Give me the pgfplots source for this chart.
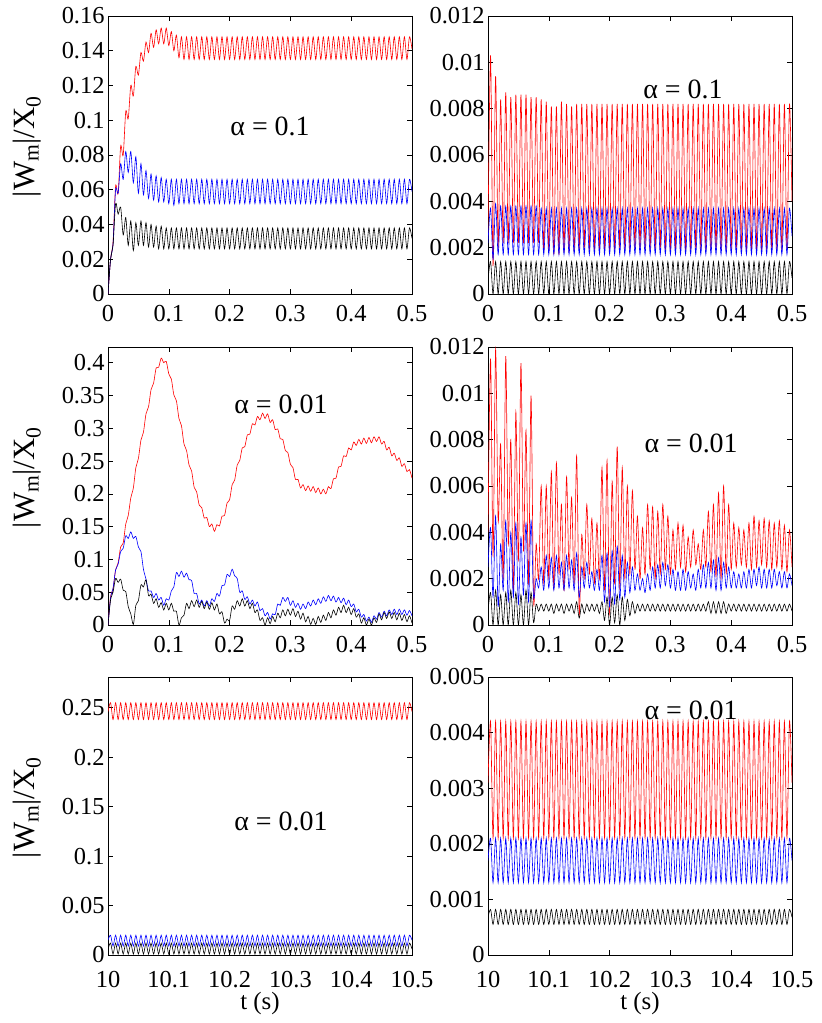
\documentclass[border=0pt]{standalone}
\usepackage{fontspec}
\setmainfont{Liberation Serif}
\usepackage{pgfplots}
\pgfplotsset{compat=1.18}
\usepackage{pgfplotstable}

\pgfplotstableread{
t r b k
0 0 0 0
0.0042 0.020 0.020 0.020
0.0083 0.030 0.029 0.028
0.0125 0.062 0.060 0.052
0.0167 0.058 0.058 0.046
0.0208 0.085 0.075 0.050
0.025 0.080 0.066 0.034
0.0292 0.105 0.082 0.044
0.0333 0.101 0.070 0.028
0.0375 0.120 0.082 0.042
0.0417 0.114 0.064 0.025
0.0458 0.131 0.079 0.041
0.05 0.126 0.058 0.028
0.0542 0.139 0.075 0.042
0.0583 0.134 0.057 0.028
0.0625 0.145 0.071 0.041
0.0667 0.139 0.055 0.027
0.0708 0.150 0.069 0.040
0.075 0.142 0.054 0.027
0.0792 0.152 0.068 0.039
0.0833 0.144 0.053 0.026
0.0875 0.153 0.067 0.039
0.0917 0.144 0.053 0.026
0.0958 0.153 0.066 0.038
0.1 0.143 0.052 0.026
0.1042 0.151 0.066 0.038
0.1083 0.140 0.051 0.026
0.1125 0.149 0.066 0.038
0.1167 0.136 0.052 0.026
0.1208 0.148 0.066 0.038
0.125 0.135 0.052 0.026
0.1292 0.148 0.066 0.038
0.1333 0.135 0.052 0.026
0.1375 0.148 0.066 0.038
0.1417 0.135 0.052 0.026
0.1458 0.148 0.066 0.038
0.15 0.135 0.052 0.026
0.1542 0.148 0.066 0.038
0.1583 0.135 0.052 0.026
0.1625 0.148 0.066 0.038
0.1667 0.135 0.052 0.026
0.1708 0.148 0.066 0.038
0.175 0.135 0.052 0.026
0.1792 0.148 0.066 0.038
0.1833 0.135 0.052 0.026
0.1875 0.148 0.066 0.038
0.1917 0.135 0.052 0.026
0.1958 0.148 0.066 0.038
0.2 0.135 0.052 0.026
0.2042 0.148 0.066 0.038
0.2083 0.135 0.052 0.026
0.2125 0.148 0.066 0.038
0.2167 0.135 0.052 0.026
0.2208 0.148 0.066 0.038
0.225 0.135 0.052 0.026
0.2292 0.148 0.066 0.038
0.2333 0.135 0.052 0.026
0.2375 0.148 0.066 0.038
0.2417 0.135 0.052 0.026
0.2458 0.148 0.066 0.038
0.25 0.135 0.052 0.026
0.2542 0.148 0.066 0.038
0.2583 0.135 0.052 0.026
0.2625 0.148 0.066 0.038
0.2667 0.135 0.052 0.026
0.2708 0.148 0.066 0.038
0.275 0.135 0.052 0.026
0.2792 0.148 0.066 0.038
0.2833 0.135 0.052 0.026
0.2875 0.148 0.066 0.038
0.2917 0.135 0.052 0.026
0.2958 0.148 0.066 0.038
0.3 0.135 0.052 0.026
0.3042 0.148 0.066 0.038
0.3083 0.135 0.052 0.026
0.3125 0.148 0.066 0.038
0.3167 0.135 0.052 0.026
0.3208 0.148 0.066 0.038
0.325 0.135 0.052 0.026
0.3292 0.148 0.066 0.038
0.3333 0.135 0.052 0.026
0.3375 0.148 0.066 0.038
0.3417 0.135 0.052 0.026
0.3458 0.148 0.066 0.038
0.35 0.135 0.052 0.026
0.3542 0.148 0.066 0.038
0.3583 0.135 0.052 0.026
0.3625 0.148 0.066 0.038
0.3667 0.135 0.052 0.026
0.3708 0.148 0.066 0.038
0.375 0.135 0.052 0.026
0.3792 0.148 0.066 0.038
0.3833 0.135 0.052 0.026
0.3875 0.148 0.066 0.038
0.3917 0.135 0.052 0.026
0.3958 0.148 0.066 0.038
0.4 0.135 0.052 0.026
0.4042 0.148 0.066 0.038
0.4083 0.135 0.052 0.026
0.4125 0.148 0.066 0.038
0.4167 0.135 0.052 0.026
0.4208 0.148 0.066 0.038
0.425 0.135 0.052 0.026
0.4292 0.148 0.066 0.038
0.4333 0.135 0.052 0.026
0.4375 0.148 0.066 0.038
0.4417 0.135 0.052 0.026
0.4458 0.148 0.066 0.038
0.45 0.135 0.052 0.026
0.4542 0.148 0.066 0.038
0.4583 0.135 0.052 0.026
0.4625 0.148 0.066 0.038
0.4667 0.135 0.052 0.026
0.4708 0.148 0.066 0.038
0.475 0.135 0.052 0.026
0.4792 0.148 0.066 0.038
0.4833 0.135 0.052 0.026
0.4875 0.148 0.066 0.038
0.4917 0.135 0.052 0.026
0.4958 0.148 0.066 0.038
0.5 0.141 0.059 0.032
}\tA

\pgfplotstableread{
t r b k
0 0.0025 0.0022 0.0006
0.0042 0.0103 0.0037 0.0014
0.0083 0.0012 0.0015 0
0.0125 0.0094 0.0039 0.0014
0.0167 0.0020 0.0017 0
0.0208 0.0084 0.0038 0.0014
0.025 0.0022 0.0017 0
0.0292 0.0087 0.0038 0.0014
0.0333 0.0022 0.0017 0
0.0375 0.0085 0.0038 0.0014
0.0417 0.0022 0.0017 0
0.0458 0.0086 0.0038 0.0014
0.05 0.0022 0.0017 0
0.0542 0.0086 0.0038 0.0014
0.0583 0.0022 0.0017 0
0.0625 0.0086 0.0038 0.0014
0.0667 0.0022 0.0017 0
0.0708 0.0085 0.0038 0.0014
0.075 0.0022 0.0017 0
0.0792 0.0085 0.0038 0.0014
0.0833 0.0022 0.0017 0
0.0875 0.0084 0.0037 0.0014
0.0917 0.0018 0.0017 0
0.0958 0.0083 0.0037 0.0014
0.1 0.0018 0.0017 0
0.1042 0.0081 0.0037 0.0014
0.1083 0.0017 0.0017 0
0.1125 0.0081 0.0037 0.0014
0.1167 0.0017 0.0017 0
0.1208 0.0083 0.0037 0.0014
0.125 0.0018 0.0017 0
0.1292 0.0082 0.0037 0.0014
0.1333 0.0018 0.0017 0
0.1375 0.0081 0.0037 0.0014
0.1417 0.0018 0.0017 0
0.1458 0.0082 0.0037 0.0014
0.15 0.0019 0.0017 0
0.1542 0.0082 0.0037 0.0014
0.1583 0.0019 0.0017 0
0.1625 0.0082 0.0037 0.0014
0.1667 0.0019 0.0017 0
0.1708 0.0082 0.0037 0.0014
0.175 0.0019 0.0017 0
0.1792 0.0082 0.0037 0.0014
0.1833 0.0019 0.0017 0
0.1875 0.0082 0.0037 0.0014
0.1917 0.0019 0.0017 0
0.1958 0.0082 0.0037 0.0014
0.2 0.0019 0.0017 0
0.2042 0.0082 0.0037 0.0014
0.2083 0.0019 0.0017 0
0.2125 0.0082 0.0037 0.0014
0.2167 0.0019 0.0017 0
0.2208 0.0082 0.0037 0.0014
0.225 0.0019 0.0017 0
0.2292 0.0082 0.0037 0.0014
0.2333 0.0019 0.0017 0
0.2375 0.0082 0.0037 0.0014
0.2417 0.0019 0.0017 0
0.2458 0.0082 0.0037 0.0014
0.25 0.0019 0.0017 0
0.2542 0.0082 0.0037 0.0014
0.2583 0.0019 0.0017 0
0.2625 0.0082 0.0037 0.0014
0.2667 0.0019 0.0017 0
0.2708 0.0082 0.0037 0.0014
0.275 0.0019 0.0017 0
0.2792 0.0082 0.0037 0.0014
0.2833 0.0019 0.0017 0
0.2875 0.0082 0.0037 0.0014
0.2917 0.0019 0.0017 0
0.2958 0.0082 0.0037 0.0014
0.3 0.0019 0.0017 0
0.3042 0.0082 0.0037 0.0014
0.3083 0.0019 0.0017 0
0.3125 0.0082 0.0037 0.0014
0.3167 0.0019 0.0017 0
0.3208 0.0082 0.0037 0.0014
0.325 0.0019 0.0017 0
0.3292 0.0082 0.0037 0.0014
0.3333 0.0019 0.0017 0
0.3375 0.0082 0.0037 0.0014
0.3417 0.0019 0.0017 0
0.3458 0.0082 0.0037 0.0014
0.35 0.0019 0.0017 0
0.3542 0.0082 0.0037 0.0014
0.3583 0.0019 0.0017 0
0.3625 0.0082 0.0037 0.0014
0.3667 0.0019 0.0017 0
0.3708 0.0082 0.0037 0.0014
0.375 0.0019 0.0017 0
0.3792 0.0082 0.0037 0.0014
0.3833 0.0019 0.0017 0
0.3875 0.0082 0.0037 0.0014
0.3917 0.0019 0.0017 0
0.3958 0.0082 0.0037 0.0014
0.4 0.0019 0.0017 0
0.4042 0.0082 0.0037 0.0014
0.4083 0.0019 0.0017 0
0.4125 0.0082 0.0037 0.0014
0.4167 0.0019 0.0017 0
0.4208 0.0082 0.0037 0.0014
0.425 0.0019 0.0017 0
0.4292 0.0082 0.0037 0.0014
0.4333 0.0019 0.0017 0
0.4375 0.0082 0.0037 0.0014
0.4417 0.0019 0.0017 0
0.4458 0.0082 0.0037 0.0014
0.45 0.0019 0.0017 0
0.4542 0.0082 0.0037 0.0014
0.4583 0.0019 0.0017 0
0.4625 0.0082 0.0037 0.0014
0.4667 0.0019 0.0017 0
0.4708 0.0082 0.0037 0.0014
0.475 0.0019 0.0017 0
0.4792 0.0082 0.0037 0.0014
0.4833 0.0019 0.0017 0
0.4875 0.0082 0.0037 0.0014
0.4917 0.0019 0.0017 0
0.4958 0.0082 0.0037 0.0014
0.5 0.0040 0.0025 0.0007
}\tB

\pgfplotstableread{
t r b k
0 0 0 0
0.0042 0.043 0.041 0.038
0.0083 0.055 0.056 0.050
0.0125 0.084 0.084 0.071
0.0167 0.095 0.093 0.065
0.0208 0.119 0.112 0.070
0.025 0.125 0.117 0.053
0.0292 0.154 0.136 0.051
0.0333 0.167 0.132 0.028
0.0375 0.194 0.142 0.017
0.0417 0.209 0.132 0.001
0.0458 0.240 0.135 0.030
0.05 0.254 0.119 0.037
0.0542 0.282 0.112 0.061
0.0583 0.294 0.085 0.058
0.0625 0.322 0.070 0.069
0.0667 0.333 0.052 0.045
0.0708 0.359 0.052 0.047
0.075 0.369 0.042 0.033
0.0792 0.392 0.048 0.040
0.0833 0.393 0.038 0.027
0.0875 0.407 0.042 0.034
0.0917 0.400 0.030 0.023
0.0958 0.402 0.040 0.033
0.1 0.383 0.038 0.023
0.1042 0.375 0.052 0.033
0.1083 0.351 0.058 0.021
0.1125 0.342 0.080 0.021
0.1167 0.315 0.074 0.000
0.1208 0.304 0.082 0.011
0.125 0.276 0.073 0.015
0.1292 0.266 0.079 0.033
0.1333 0.244 0.069 0.025
0.1375 0.235 0.068 0.037
0.1417 0.210 0.048 0.028
0.1458 0.203 0.048 0.038
0.15 0.183 0.032 0.027
0.1542 0.179 0.038 0.036
0.1583 0.163 0.029 0.025
0.1625 0.164 0.037 0.035
0.1667 0.150 0.029 0.024
0.1708 0.154 0.040 0.034
0.175 0.143 0.036 0.023
0.1792 0.153 0.048 0.032
0.1833 0.151 0.044 0.017
0.1875 0.166 0.060 0.020
0.1917 0.167 0.061 0.003
0.1958 0.186 0.077 0.009
0.2 0.191 0.074 0.007
0.2042 0.214 0.085 0.029
0.2083 0.221 0.075 0.024
0.2125 0.244 0.071 0.037
0.2167 0.251 0.050 0.029
0.2208 0.270 0.052 0.040
0.225 0.272 0.039 0.029
0.2292 0.290 0.043 0.037
0.2333 0.291 0.032 0.025
0.2375 0.307 0.038 0.033
0.2417 0.305 0.029 0.019
0.2458 0.318 0.035 0.023
0.25 0.313 0.022 0.007
0.2542 0.323 0.025 0.011
0.2583 0.315 0.014 0.000
0.2625 0.322 0.019 0.011
0.2667 0.309 0.009 0.002
0.2708 0.313 0.017 0.013
0.275 0.298 0.016 0.005
0.2792 0.299 0.032 0.018
0.2833 0.284 0.030 0.011
0.2875 0.283 0.042 0.023
0.2917 0.266 0.036 0.014
0.2958 0.263 0.042 0.024
0.3 0.245 0.030 0.015
0.3042 0.240 0.037 0.025
0.3083 0.222 0.027 0.013
0.3125 0.222 0.033 0.021
0.3167 0.209 0.024 0.009
0.3208 0.214 0.032 0.018
0.325 0.205 0.025 0.005
0.3292 0.212 0.035 0.013
0.3333 0.204 0.029 0.001
0.3375 0.211 0.038 0.010
0.3417 0.202 0.031 0.001
0.3458 0.209 0.040 0.013
0.35 0.200 0.033 0.004
0.3542 0.207 0.043 0.015
0.3583 0.200 0.036 0.007
0.3625 0.211 0.045 0.019
0.3667 0.208 0.037 0.011
0.3708 0.223 0.044 0.023
0.375 0.224 0.035 0.015
0.3792 0.241 0.042 0.027
0.3833 0.242 0.034 0.019
0.3875 0.258 0.041 0.030
0.3917 0.257 0.031 0.019
0.3958 0.270 0.038 0.027
0.4 0.267 0.028 0.016
0.4042 0.279 0.032 0.025
0.4083 0.274 0.020 0.012
0.4125 0.283 0.024 0.017
0.4167 0.276 0.012 0.003
0.4208 0.285 0.016 0.011
0.425 0.277 0.006 0.000
0.4292 0.286 0.012 0.009
0.4333 0.278 0.004 0.000
0.4375 0.287 0.014 0.011
0.4417 0.280 0.009 0.004
0.4458 0.287 0.019 0.017
0.45 0.276 0.012 0.008
0.4542 0.280 0.021 0.019
0.4583 0.267 0.014 0.010
0.4625 0.271 0.023 0.020
0.4667 0.258 0.016 0.010
0.4708 0.262 0.024 0.019
0.475 0.251 0.016 0.008
0.4792 0.255 0.024 0.018
0.4833 0.242 0.016 0.007
0.4875 0.246 0.023 0.016
0.4917 0.234 0.015 0.005
0.4958 0.237 0.022 0.014
0.5 0.224 0.014 0.003
}\tC

\pgfplotstableread{
t r b k
0 0.0040 0.0025 0.0006
0.0042 0.0115 0.0042 0.0014
0.0083 0.0030 0.0012 0
0.0125 0.0119 0.0047 0.0015
0.0167 0.0045 0.0008 0
0.0208 0.0078 0.0035 0.0013
0.025 0.0020 0.0015 0
0.0292 0.0116 0.0045 0.0014
0.0333 0.0035 0.0010 0
0.0375 0.0080 0.0040 0.0015
0.0417 0.0015 0.0012 0
0.0458 0.0092 0.0044 0.0014
0.05 0.0028 0.0009 0
0.0542 0.0113 0.0038 0.0013
0.0583 0.0032 0.0013 0
0.0625 0.0084 0.0044 0.0015
0.0667 0.0018 0.0010 0
0.0708 0.0099 0.0045 0.0014
0.075 0.0010 0.0012 0.0001
0.0792 0.0035 0.0020 0.0009
0.0833 0.0020 0.0016 0.0006
0.0875 0.0060 0.0025 0.0009
0.0917 0.0018 0.0015 0.0006
0.0958 0.0060 0.0030 0.0009
0.1 0.0020 0.0016 0.0006
0.1042 0.0066 0.0029 0.0009
0.1083 0.0016 0.0015 0.0005
0.1125 0.0070 0.0030 0.0009
0.1167 0.0022 0.0016 0.0006
0.1208 0.0052 0.0027 0.0009
0.125 0.0015 0.0015 0.0005
0.1292 0.0064 0.0030 0.0009
0.1333 0.0024 0.0016 0.0006
0.1375 0.0055 0.0028 0.0009
0.1417 0.0018 0.0015 0.0005
0.1458 0.0073 0.0031 0.0010
0.15 0.0005 0.0012 0.0003
0.1542 0.0039 0.0025 0.0009
0.1583 0.0020 0.0016 0.0005
0.1625 0.0052 0.0027 0.0009
0.1667 0.0022 0.0016 0.0006
0.1708 0.0046 0.0023 0.0009
0.175 0.0018 0.0015 0.0006
0.1792 0.0044 0.0024 0.0009
0.1833 0.0020 0.0015 0.0005
0.1875 0.0068 0.0030 0.0010
0.1917 0.0015 0.0010 0.0002
0.1958 0.0071 0.0031 0.0012
0.2 0.0005 0.0008 0
0.2042 0.0062 0.0032 0.0012
0.2083 0.0018 0.0009 0.0001
0.2125 0.0077 0.0034 0.0013
0.2167 0.0016 0.0011 0
0.2208 0.0068 0.0030 0.0012
0.225 0.0020 0.0012 0.0002
0.2292 0.0060 0.0027 0.0011
0.2333 0.0022 0.0014 0.0004
0.2375 0.0058 0.0025 0.0010
0.2417 0.0024 0.0015 0.0005
0.2458 0.0047 0.0022 0.0009
0.25 0.0020 0.0015 0.0006
0.2542 0.0042 0.0020 0.0009
0.2583 0.0022 0.0014 0.0006
0.2625 0.0052 0.0022 0.0009
0.2667 0.0024 0.0015 0.0006
0.2708 0.0051 0.0025 0.0009
0.275 0.0020 0.0016 0.0006
0.2792 0.0049 0.0026 0.0009
0.2833 0.0022 0.0016 0.0006
0.2875 0.0052 0.0027 0.0009
0.2917 0.0024 0.0017 0.0006
0.2958 0.0047 0.0026 0.0009
0.3 0.0022 0.0016 0.0006
0.3042 0.0041 0.0024 0.0009
0.3083 0.0024 0.0015 0.0006
0.3125 0.0044 0.0023 0.0009
0.3167 0.0025 0.0015 0.0006
0.3208 0.0043 0.0024 0.0009
0.325 0.0023 0.0015 0.0006
0.3292 0.0038 0.0023 0.0009
0.3333 0.0025 0.0016 0.0006
0.3375 0.0041 0.0022 0.0009
0.3417 0.0026 0.0015 0.0006
0.3458 0.0035 0.0024 0.0009
0.35 0.0024 0.0016 0.0006
0.3542 0.0041 0.0026 0.0009
0.3583 0.0025 0.0016 0.0006
0.3625 0.0049 0.0027 0.0010
0.3667 0.0023 0.0016 0.0005
0.3708 0.0052 0.0028 0.0010
0.375 0.0021 0.0015 0.0005
0.3792 0.0057 0.0029 0.0010
0.3833 0.0020 0.0015 0.0005
0.3875 0.0060 0.0027 0.0010
0.3917 0.0022 0.0016 0.0005
0.3958 0.0052 0.0025 0.0009
0.4 0.0024 0.0016 0.0006
0.4042 0.0044 0.0023 0.0009
0.4083 0.0025 0.0016 0.0006
0.4125 0.0042 0.0022 0.0009
0.4167 0.0026 0.0016 0.0006
0.4208 0.0041 0.0023 0.0009
0.425 0.0025 0.0016 0.0006
0.4292 0.0044 0.0024 0.0009
0.4333 0.0024 0.0016 0.0006
0.4375 0.0047 0.0024 0.0009
0.4417 0.0025 0.0017 0.0006
0.4458 0.0045 0.0025 0.0009
0.45 0.0026 0.0016 0.0006
0.4542 0.0046 0.0024 0.0009
0.4583 0.0025 0.0016 0.0006
0.4625 0.0045 0.0024 0.0009
0.4667 0.0024 0.0016 0.0006
0.4708 0.0044 0.0024 0.0009
0.475 0.0025 0.0017 0.0006
0.4792 0.0045 0.0023 0.0009
0.4833 0.0024 0.0016 0.0006
0.4875 0.0043 0.0023 0.0009
0.4917 0.0023 0.0016 0.0006
0.4958 0.0041 0.0022 0.0009
0.5 0.0025 0.0017 0.0006
}\tD

\pgfplotstableread{
t r b k
10 0.246 0.015 0.006
10.0042 0.255 0.020 0.012
10.0083 0.238 0.009 0.001
10.0125 0.255 0.020 0.012
10.0167 0.238 0.009 0.001
10.0208 0.255 0.020 0.012
10.025 0.238 0.009 0.001
10.0292 0.255 0.020 0.012
10.0333 0.238 0.009 0.001
10.0375 0.255 0.020 0.012
10.0417 0.238 0.009 0.001
10.0458 0.255 0.020 0.012
10.05 0.238 0.009 0.001
10.0542 0.255 0.020 0.012
10.0583 0.238 0.009 0.001
10.0625 0.255 0.020 0.012
10.0667 0.238 0.009 0.001
10.0708 0.255 0.020 0.012
10.075 0.238 0.009 0.001
10.0792 0.255 0.020 0.012
10.0833 0.238 0.009 0.001
10.0875 0.255 0.020 0.012
10.0917 0.238 0.009 0.001
10.0958 0.255 0.020 0.012
10.1 0.238 0.009 0.001
10.1042 0.255 0.020 0.012
10.1083 0.238 0.009 0.001
10.1125 0.255 0.020 0.012
10.1167 0.238 0.009 0.001
10.1208 0.255 0.020 0.012
10.125 0.238 0.009 0.001
10.1292 0.255 0.020 0.012
10.1333 0.238 0.009 0.001
10.1375 0.255 0.020 0.012
10.1417 0.238 0.009 0.001
10.1458 0.255 0.020 0.012
10.15 0.238 0.009 0.001
10.1542 0.255 0.020 0.012
10.1583 0.238 0.009 0.001
10.1625 0.255 0.020 0.012
10.1667 0.238 0.009 0.001
10.1708 0.255 0.020 0.012
10.175 0.238 0.009 0.001
10.1792 0.255 0.020 0.012
10.1833 0.238 0.009 0.001
10.1875 0.255 0.020 0.012
10.1917 0.238 0.009 0.001
10.1958 0.255 0.020 0.012
10.2 0.238 0.009 0.001
10.2042 0.255 0.020 0.012
10.2083 0.238 0.009 0.001
10.2125 0.255 0.020 0.012
10.2167 0.238 0.009 0.001
10.2208 0.255 0.020 0.012
10.225 0.238 0.009 0.001
10.2292 0.255 0.020 0.012
10.2333 0.238 0.009 0.001
10.2375 0.255 0.020 0.012
10.2417 0.238 0.009 0.001
10.2458 0.255 0.020 0.012
10.25 0.238 0.009 0.001
10.2542 0.255 0.020 0.012
10.2583 0.238 0.009 0.001
10.2625 0.255 0.020 0.012
10.2667 0.238 0.009 0.001
10.2708 0.255 0.020 0.012
10.275 0.238 0.009 0.001
10.2792 0.255 0.020 0.012
10.2833 0.238 0.009 0.001
10.2875 0.255 0.020 0.012
10.2917 0.238 0.009 0.001
10.2958 0.255 0.020 0.012
10.3 0.238 0.009 0.001
10.3042 0.255 0.020 0.012
10.3083 0.238 0.009 0.001
10.3125 0.255 0.020 0.012
10.3167 0.238 0.009 0.001
10.3208 0.255 0.020 0.012
10.325 0.238 0.009 0.001
10.3292 0.255 0.020 0.012
10.3333 0.238 0.009 0.001
10.3375 0.255 0.020 0.012
10.3417 0.238 0.009 0.001
10.3458 0.255 0.020 0.012
10.35 0.238 0.009 0.001
10.3542 0.255 0.020 0.012
10.3583 0.238 0.009 0.001
10.3625 0.255 0.020 0.012
10.3667 0.238 0.009 0.001
10.3708 0.255 0.020 0.012
10.375 0.238 0.009 0.001
10.3792 0.255 0.020 0.012
10.3833 0.238 0.009 0.001
10.3875 0.255 0.020 0.012
10.3917 0.238 0.009 0.001
10.3958 0.255 0.020 0.012
10.4 0.238 0.009 0.001
10.4042 0.255 0.020 0.012
10.4083 0.238 0.009 0.001
10.4125 0.255 0.020 0.012
10.4167 0.238 0.009 0.001
10.4208 0.255 0.020 0.012
10.425 0.238 0.009 0.001
10.4292 0.255 0.020 0.012
10.4333 0.238 0.009 0.001
10.4375 0.255 0.020 0.012
10.4417 0.238 0.009 0.001
10.4458 0.255 0.020 0.012
10.45 0.238 0.009 0.001
10.4542 0.255 0.020 0.012
10.4583 0.238 0.009 0.001
10.4625 0.255 0.020 0.012
10.4667 0.238 0.009 0.001
10.4708 0.255 0.020 0.012
10.475 0.238 0.009 0.001
10.4792 0.255 0.020 0.012
10.4833 0.238 0.009 0.001
10.4875 0.255 0.020 0.012
10.4917 0.238 0.009 0.001
10.4958 0.255 0.020 0.012
10.5 0.246 0.015 0.006
}\tE

\pgfplotstableread{
t r b k
10 0.0031 0.0017 0.00068
10.0042 0.0042 0.0021 0.00082
10.0083 0.0021 0.0013 0.00055
10.0125 0.0042 0.0021 0.00082
10.0167 0.0021 0.0013 0.00055
10.0208 0.0042 0.0021 0.00082
10.025 0.0021 0.0013 0.00055
10.0292 0.0042 0.0021 0.00082
10.0333 0.0021 0.0013 0.00055
10.0375 0.0042 0.0021 0.00082
10.0417 0.0021 0.0013 0.00055
10.0458 0.0042 0.0021 0.00082
10.05 0.0021 0.0013 0.00055
10.0542 0.0042 0.0021 0.00082
10.0583 0.0021 0.0013 0.00055
10.0625 0.0042 0.0021 0.00082
10.0667 0.0021 0.0013 0.00055
10.0708 0.0042 0.0021 0.00082
10.075 0.0021 0.0013 0.00055
10.0792 0.0042 0.0021 0.00082
10.0833 0.0021 0.0013 0.00055
10.0875 0.0042 0.0021 0.00082
10.0917 0.0021 0.0013 0.00055
10.0958 0.0042 0.0021 0.00082
10.1 0.0021 0.0013 0.00055
10.1042 0.0042 0.0021 0.00082
10.1083 0.0021 0.0013 0.00055
10.1125 0.0042 0.0021 0.00082
10.1167 0.0021 0.0013 0.00055
10.1208 0.0042 0.0021 0.00082
10.125 0.0021 0.0013 0.00055
10.1292 0.0042 0.0021 0.00082
10.1333 0.0021 0.0013 0.00055
10.1375 0.0042 0.0021 0.00082
10.1417 0.0021 0.0013 0.00055
10.1458 0.0042 0.0021 0.00082
10.15 0.0021 0.0013 0.00055
10.1542 0.0042 0.0021 0.00082
10.1583 0.0021 0.0013 0.00055
10.1625 0.0042 0.0021 0.00082
10.1667 0.0021 0.0013 0.00055
10.1708 0.0042 0.0021 0.00082
10.175 0.0021 0.0013 0.00055
10.1792 0.0042 0.0021 0.00082
10.1833 0.0021 0.0013 0.00055
10.1875 0.0042 0.0021 0.00082
10.1917 0.0021 0.0013 0.00055
10.1958 0.0042 0.0021 0.00082
10.2 0.0021 0.0013 0.00055
10.2042 0.0042 0.0021 0.00082
10.2083 0.0021 0.0013 0.00055
10.2125 0.0042 0.0021 0.00082
10.2167 0.0021 0.0013 0.00055
10.2208 0.0042 0.0021 0.00082
10.225 0.0021 0.0013 0.00055
10.2292 0.0042 0.0021 0.00082
10.2333 0.0021 0.0013 0.00055
10.2375 0.0042 0.0021 0.00082
10.2417 0.0021 0.0013 0.00055
10.2458 0.0042 0.0021 0.00082
10.25 0.0021 0.0013 0.00055
10.2542 0.0042 0.0021 0.00082
10.2583 0.0021 0.0013 0.00055
10.2625 0.0042 0.0021 0.00082
10.2667 0.0021 0.0013 0.00055
10.2708 0.0042 0.0021 0.00082
10.275 0.0021 0.0013 0.00055
10.2792 0.0042 0.0021 0.00082
10.2833 0.0021 0.0013 0.00055
10.2875 0.0042 0.0021 0.00082
10.2917 0.0021 0.0013 0.00055
10.2958 0.0042 0.0021 0.00082
10.3 0.0021 0.0013 0.00055
10.3042 0.0042 0.0021 0.00082
10.3083 0.0021 0.0013 0.00055
10.3125 0.0042 0.0021 0.00082
10.3167 0.0021 0.0013 0.00055
10.3208 0.0042 0.0021 0.00082
10.325 0.0021 0.0013 0.00055
10.3292 0.0042 0.0021 0.00082
10.3333 0.0021 0.0013 0.00055
10.3375 0.0042 0.0021 0.00082
10.3417 0.0021 0.0013 0.00055
10.3458 0.0042 0.0021 0.00082
10.35 0.0021 0.0013 0.00055
10.3542 0.0042 0.0021 0.00082
10.3583 0.0021 0.0013 0.00055
10.3625 0.0042 0.0021 0.00082
10.3667 0.0021 0.0013 0.00055
10.3708 0.0042 0.0021 0.00082
10.375 0.0021 0.0013 0.00055
10.3792 0.0042 0.0021 0.00082
10.3833 0.0021 0.0013 0.00055
10.3875 0.0042 0.0021 0.00082
10.3917 0.0021 0.0013 0.00055
10.3958 0.0042 0.0021 0.00082
10.4 0.0021 0.0013 0.00055
10.4042 0.0042 0.0021 0.00082
10.4083 0.0021 0.0013 0.00055
10.4125 0.0042 0.0021 0.00082
10.4167 0.0021 0.0013 0.00055
10.4208 0.0042 0.0021 0.00082
10.425 0.0021 0.0013 0.00055
10.4292 0.0042 0.0021 0.00082
10.4333 0.0021 0.0013 0.00055
10.4375 0.0042 0.0021 0.00082
10.4417 0.0021 0.0013 0.00055
10.4458 0.0042 0.0021 0.00082
10.45 0.0021 0.0013 0.00055
10.4542 0.0042 0.0021 0.00082
10.4583 0.0021 0.0013 0.00055
10.4625 0.0042 0.0021 0.00082
10.4667 0.0021 0.0013 0.00055
10.4708 0.0042 0.0021 0.00082
10.475 0.0021 0.0013 0.00055
10.4792 0.0042 0.0021 0.00082
10.4833 0.0021 0.0013 0.00055
10.4875 0.0042 0.0021 0.00082
10.4917 0.0021 0.0013 0.00055
10.4958 0.0042 0.0021 0.00082
10.5 0.0031 0.0017 0.00068
}\tF

\pgfplotsset{
  panel/.style={
    width=304bp, height=278bp, scale only axis,
    anchor=south west, ymin=0,
    tick align=inside, major tick length=5bp,
    axis line style={line width=0.6bp},
    every tick/.style={black, line width=0.6bp},
    tick label style={font=\fontsize{24.5}{28}\selectfont, inner ysep=0bp},
    scaled ticks=false,
    /pgf/number format/assume math mode=true,
    every axis y label/.style={at={(axis description cs:-0.265,0.53)}, rotate=90, anchor=center, font=\fontsize{31}{36}\selectfont},
    every axis x label/.style={at={(axis description cs:0.5,-0.175)}, anchor=center, font=\fontsize{25}{30}\selectfont},
  },
  tx/.style={xmin=0, xmax=0.5, xtick={0,0.1,0.2,0.3,0.4,0.5}, xticklabels={0,0.1,0.2,0.3,0.4,0.5}, xticklabel style={yshift=-11bp}},
  tb/.style={xmin=10, xmax=10.5, xtick={10,10.1,10.2,10.3,10.4,10.5}, xticklabels={10,10.1,10.2,10.3,10.4,10.5}, xticklabel style={yshift=-16bp}, xlabel={t (s)}},
  yl/.style={ylabel={|W\textsubscript{m}|/X\textsubscript{0}}},
  rl/.style={red, line width=0.6bp, smooth},
  bl/.style={blue, line width=0.6bp, smooth},
  kl/.style={black, line width=0.6bp, smooth},
}
\tikzset{al/.style={font=\fontsize{28}{32}\selectfont, anchor=center}}

\begin{document}
\begin{tikzpicture}
\useasboundingbox (0,0) rectangle (822bp,1023bp);

\begin{axis}[panel, tx, yl, at={(108bp,729bp)}, ymax=0.16,
  ytick={0,0.02,0.04,0.06,0.08,0.1,0.12,0.14,0.16},
  yticklabels={0,0.02,0.04,0.06,0.08,0.1,0.12,0.14,0.16}]
\addplot[rl] table[x=t,y=r]{\tA};
\addplot[bl] table[x=t,y=b]{\tA};
\addplot[kl] table[x=t,y=k]{\tA};
\node[al] at (axis description cs:0.533,0.604) {α = 0.1};
\end{axis}

\begin{axis}[panel, tx, at={(488bp,729bp)}, ymax=0.012,
  ytick={0,0.002,0.004,0.006,0.008,0.01,0.012},
  yticklabels={0,0.002,0.004,0.006,0.008,0.01,0.012}]
\addplot[rl] table[x=t,y=r]{\tB};
\addplot[bl] table[x=t,y=b]{\tB};
\addplot[kl] table[x=t,y=k]{\tB};
\node[al] at (axis description cs:0.641,0.737) {α = 0.1};
\end{axis}

\begin{axis}[panel, tx, yl, at={(108bp,398bp)}, ymax=0.424,
  ytick={0,0.05,0.1,0.15,0.2,0.25,0.3,0.35,0.4},
  yticklabels={0,0.05,0.1,0.15,0.2,0.25,0.3,0.35,0.4}]
\addplot[rl] table[x=t,y=r]{\tC};
\addplot[bl] table[x=t,y=b]{\tC};
\addplot[kl] table[x=t,y=k]{\tC};
\node[al] at (axis description cs:0.569,0.792) {α = 0.01};
\end{axis}

\begin{axis}[panel, tx, at={(488bp,398bp)}, ymax=0.012,
  ytick={0,0.002,0.004,0.006,0.008,0.01,0.012},
  yticklabels={0,0.002,0.004,0.006,0.008,0.01,0.012}]
\addplot[rl] table[x=t,y=r]{\tD};
\addplot[bl] table[x=t,y=b]{\tD};
\addplot[kl] table[x=t,y=k]{\tD};
\node[al] at (axis description cs:0.668,0.652) {α = 0.01};
\end{axis}

\begin{axis}[panel, tb, yl, at={(108bp,68bp)}, ymax=0.281,
  ytick={0,0.05,0.1,0.15,0.2,0.25},
  yticklabels={0,0.05,0.1,0.15,0.2,0.25}]
\addplot[rl] table[x=t,y=r]{\tE};
\addplot[bl] table[x=t,y=b]{\tE};
\addplot[kl] table[x=t,y=k]{\tE};
\node[al] at (axis description cs:0.569,0.482) {α = 0.01};
\end{axis}

\begin{axis}[panel, tb, at={(488bp,68bp)}, ymax=0.005,
  ytick={0,0.001,0.002,0.003,0.004,0.005},
  yticklabels={0,0.001,0.002,0.003,0.004,0.005}]
\addplot[rl] table[x=t,y=r]{\tF};
\addplot[bl] table[x=t,y=b]{\tF};
\addplot[kl] table[x=t,y=k]{\tF};
\node[al] at (axis description cs:0.668,0.878) {α = 0.01};
\end{axis}
\end{tikzpicture}
\end{document}
